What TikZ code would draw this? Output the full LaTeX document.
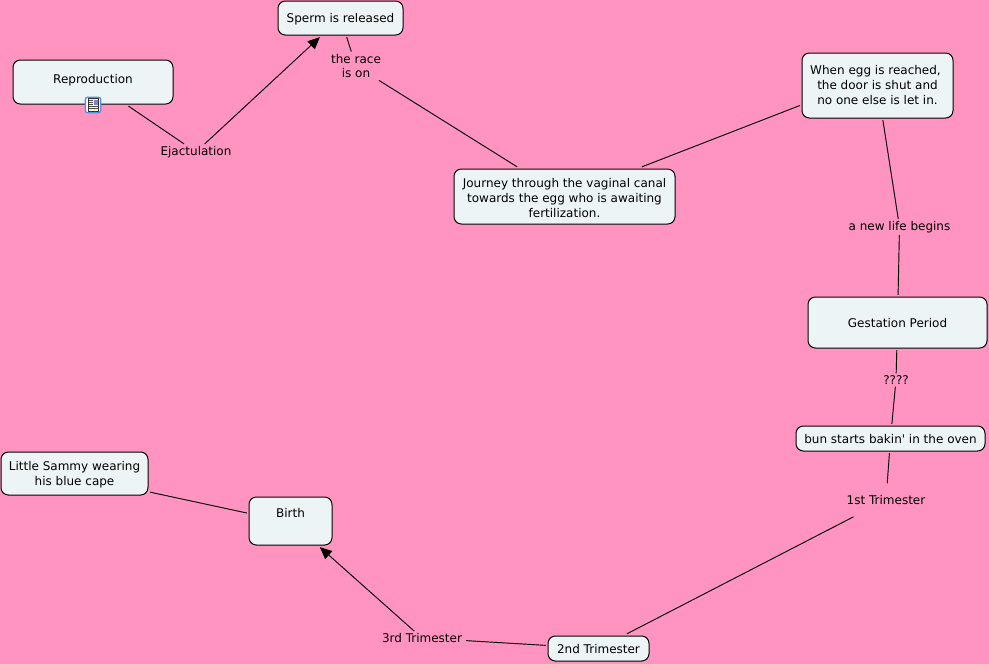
\documentclass[tikz,border=0pt]{standalone}
\usepackage{fontspec}
\setmainfont{DejaVu Sans}
\usetikzlibrary{arrows.meta}
\definecolor{pagepink}{HTML}{FF94C0}
\definecolor{boxfill}{HTML}{EDF4F6}
\definecolor{iconblue}{HTML}{5B8FDC}
\tikzset{
  concept/.style={draw=black,fill=boxfill,rounded corners=5.5pt,line width=0.75pt,align=center,inner sep=0pt,outer sep=1.6pt,font=\fontsize{9}{11.25}\selectfont,execute at begin node={\rule{0pt}{8.3pt}}},
  linklabel/.style={align=center,inner sep=1.5pt,font=\fontsize{9}{11.2}\selectfont},
  link/.style={line width=0.7pt},
  linkarrow/.style={line width=0.7pt,-{Triangle[length=9pt,width=8pt]}}
}
\begin{document}
\begin{tikzpicture}[x=0.75pt,y=-0.75pt]
  \fill[pagepink] (0,0) rectangle (989,664);
  \useasboundingbox (0,0) rectangle (989,664);
  \node[concept,minimum width=120pt,minimum height=33pt] (reproduction) at (93,82) {\raisebox{4.5pt}{Reproduction}};
  \node[concept,minimum width=93.75pt,minimum height=25.5pt] (sperm) at (340.5,18) {Sperm is released};
  \node[concept,minimum width=165.75pt,minimum height=41.25pt,execute at begin node={\rule{0pt}{31.5pt}}] (journey) at (564.5,196.5) {Journey through the vaginal canal\\towards the egg who is awaiting\\fertilization.};
  \node[concept,minimum width=113.25pt,minimum height=48.75pt] (egg) at (877.5,85.5) {When egg is reached,\hspace*{3pt}\\the door is shut and\\no one else is let in.};
  \node[concept,minimum width=134.25pt,minimum height=38.25pt] (gestation) at (897.5,322.5) {Gestation Period};
  \node[concept,minimum width=141.75pt,minimum height=18.75pt] (bun) at (890.5,438.5) {bun starts bakin\textquotesingle{} in the oven};
  \node[concept,minimum width=110.25pt,minimum height=32.25pt,execute at begin node={\rule{0pt}{19.5pt}}] (sammy) at (74.5,473.5) {Little Sammy wearing\\his blue cape};
  \node[concept,minimum width=62.25pt,minimum height=36pt] (birth) at (290.5,521) {\raisebox{12pt}{Birth}};
  \node[concept,minimum width=75.75pt,minimum height=18.75pt] (second) at (598.5,648.5) {2nd Trimester};

  \node[linklabel] (ejaculation) at (196,152) {Ejactulation};
  \node[linklabel] (race) at (356,66) {the race\\is on};
  \node[linklabel] (newlife) at (899.5,227) {a new life begins};
  \node[linklabel] (unknown) at (896,380) {????};
  \node[linklabel,minimum height=24.75pt] (first) at (886,500) {1st Trimester};
  \node[linklabel,inner xsep=3pt] (third) at (422,638) {3rd Trimester};

  \draw[link] (reproduction) -- (ejaculation);
  \draw[linkarrow] (ejaculation) -- (sperm);
  \draw[link] (sperm) -- (race);
  \draw[link] (race) -- (journey);
  \draw[link] ([xshift=58pt]journey.north) -- ([yshift=-15pt]egg.west);
  \draw[link] (egg) -- (newlife);
  \draw[link] (newlife) -- (gestation);
  \draw[link] (gestation) -- (unknown);
  \draw[link] (unknown) -- (bun);
  \draw[link] (bun) -- (first);
  \draw[link] (first) -- (second);
  \draw[link] (second) -- (third);
  \draw[linkarrow] (third) -- (birth);
  \draw[link] ([yshift=-14pt]sammy.east) -- ([yshift=6pt]birth.west);

  \node[draw=iconblue,fill=white,rounded corners=1.5pt,line width=1pt,minimum size=11.5pt,inner sep=0pt] (noteicon) at (93,105) {};
  \fill[yellow!30,draw=black!80,line width=0.3pt] (88,98.5) rectangle (98.5,111);
  \fill[gray!60!blue!70] (93.5,99.5) rectangle (98,104.5);
  \foreach \y in {100.5,102.5,104.5} \draw[black!70,line width=0.25pt] (89,\y) -- (92.5,\y);
  \foreach \y in {106.5,108.5} \draw[black!70,line width=0.25pt] (89,\y) -- (97.5,\y);
\end{tikzpicture}
\end{document}
